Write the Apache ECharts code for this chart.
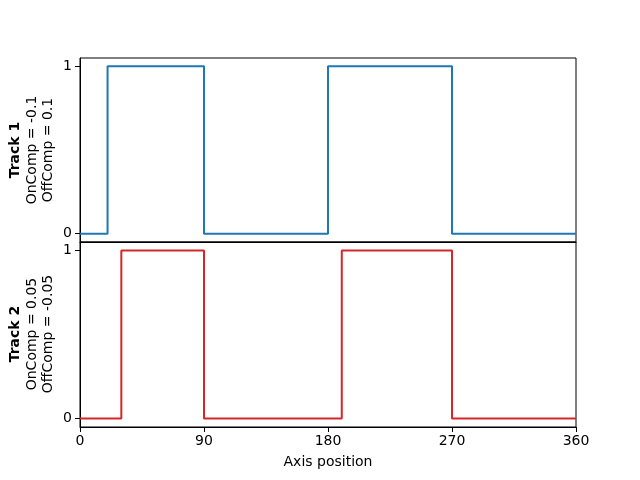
<!DOCTYPE html>
<html>
<head>
<meta charset="utf-8">
<script src="https://cdn.jsdelivr.net/npm/echarts@6/dist/echarts.min.js"></script>
<style>html,body{margin:0;padding:0;background:#fff}#c{width:640px;height:480px}</style>
</head>
<body>
<div id="c"></div>
<script>
// Transition positions (degrees) and the state held from each position onward
var track1Pos = [0, 20, 90, 180, 270, 360];
var track1State = [0, 1, 0, 1, 0, 0];
var track2Pos = [0, 30, 90, 190, 270, 360];
var track2State = [0, 1, 0, 1, 0, 0];
var xTicks = [0, 90, 180, 270, 360];
var yTicks = [0, 1];
var track1Labels = ['Track 1', 'OnComp = -0.1', 'OffComp = 0.1'];
var track2Labels = ['Track 2', 'OnComp = 0.05', 'OffComp = -0.05'];
var xTitle = 'Axis position';

function pairs(xs, ys) { return xs.map(function (x, i) { return [x, ys[i]]; }); }

var font = 'DejaVu Sans';
var chart = echarts.init(document.getElementById('c'), null, {renderer: 'canvas'});

function yAxis(idx) {
  return {
    type: 'value', gridIndex: idx, min: -0.05, max: 1.05,
    splitLine: {show: false},
    axisLine: {show: true, onZero: false, lineStyle: {color: '#000', width: 1}},
    axisTick: {show: true, length: 5, customValues: yTicks, lineStyle: {color: '#000', width: 1}},
    axisLabel: {customValues: yTicks, color: '#000', fontFamily: font, fontSize: 14, margin: 8}
  };
}

function sideLabels(lines, cy) {
  var xs = [15, 32, 48];
  return lines.map(function (t, i) {
    return {
      type: 'text', x: xs[i], y: cy, rotation: Math.PI / 2,
      style: {text: t, fill: '#000', font: (i === 0 ? 'bold ' : '') + '14px "DejaVu Sans"', align: 'center', verticalAlign: 'middle'}
    };
  });
}

chart.setOption({
  animation: false,
  backgroundColor: '#fff',
  grid: [
    {left: 80, top: 58, width: 496, height: 184, show: true, borderColor: '#000', borderWidth: 1, backgroundColor: 'transparent'},
    {left: 80, top: 242, width: 496, height: 185, show: true, borderColor: '#000', borderWidth: 1, backgroundColor: 'transparent'}
  ],
  xAxis: [
    {type: 'value', gridIndex: 0, min: 0, max: 360, interval: 90, splitLine: {show: false},
     axisLine: {show: true, onZero: false, lineStyle: {color: '#000'}}, axisTick: {show: false}, axisLabel: {show: false}},
    {type: 'value', gridIndex: 1, min: 0, max: 360, interval: 90, splitLine: {show: false},
     axisLine: {show: true, onZero: false, lineStyle: {color: '#000'}},
     axisTick: {show: true, length: 5, lineStyle: {color: '#000'}},
     axisLabel: {color: '#000', fontFamily: font, fontSize: 14, margin: 7},
     name: xTitle, nameLocation: 'middle', nameGap: 28,
     nameTextStyle: {color: '#000', fontFamily: font, fontSize: 14}}
  ],
  yAxis: [yAxis(0), yAxis(1)],
  series: [
    {type: 'line', xAxisIndex: 0, yAxisIndex: 0, step: 'end', showSymbol: false, symbol: 'none',
     data: pairs(track1Pos, track1State), lineStyle: {color: '#1f77b4', width: 2}},
    {type: 'line', xAxisIndex: 1, yAxisIndex: 1, step: 'end', showSymbol: false, symbol: 'none',
     data: pairs(track2Pos, track2State), lineStyle: {color: '#d62728', width: 2}}
  ],
  graphic: sideLabels(track1Labels, 150).concat(sideLabels(track2Labels, 334))
});
</script>
</body>
</html>
